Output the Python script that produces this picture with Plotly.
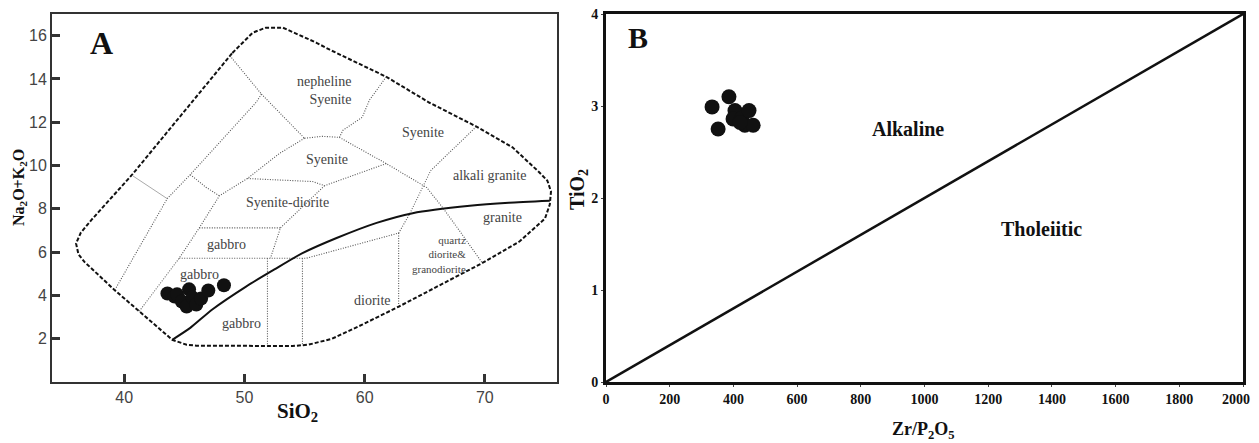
import plotly.graph_objects as go

# ---------------- Panel A: TAS (plutonic) ----------------
outer_x = [49.0, 50.7, 51.8, 53.2, 56.0, 57.1, 61.8, 65.4, 69.3, 72.3, 74.5, 75.2, 75.5, 75.4, 75.0,
           72.9, 69.8, 65.4, 62.9, 59.8, 57.3, 55.3, 54.0, 46.0, 45.2, 44.0, 41.25, 39.2, 36.7,
           36.2, 36.0, 36.4, 37.3, 38.75, 40.7, 49.0]
outer_y = [15.2, 16.14, 16.37, 16.37, 15.67, 15.35, 14.1, 12.9, 11.8, 10.84, 9.7, 9.3, 8.8, 8.2, 7.55,
           6.5, 5.5, 4.2, 3.5, 2.65, 2.0, 1.72, 1.66, 1.68, 1.72, 1.95, 3.25, 4.25, 5.55,
           5.9, 6.4, 6.9, 7.5, 8.4, 9.6, 15.2]

alk_div_x = [44.0, 45.5, 47.33, 50.17, 52.5, 54.83, 57.67, 61.0, 64.0, 68.75, 72.0, 75.4]
alk_div_y = [1.95, 2.5, 3.35, 4.42, 5.2, 5.95, 6.65, 7.35, 7.8, 8.14, 8.28, 8.37]

field_x = [48.8, 51.42, None,
           51.42, 55.0, None,
           55.0, 56.5, 57.9, None,
           57.9, 58.2, 59.8, 60.4, 61.8, None,
           57.9, 61.8, 65.17, 66.5, 67.9, 69.8, None,
           61.8, 56.67, None,
           50.25, 55.67, 56.67, None,
           55.0, 52.92, 50.25, 47.92, 46.25, 44.58, 41.25, None,
           51.42, 51.0, 45.5, 43.58, 39.17, None,
           45.5, 46.8, 47.92, None,
           46.25, 53.0, None,
           56.67, 53.0, 52.17, None,
           44.58, 55.17, 62.83, None,
           51.92, 51.92, None,
           54.83, 54.83, None,
           62.83, 62.83, None,
           62.83, 63.75, 65.5, 69.3]
field_y = [15.07, 13.3, None,
           13.3, 11.26, None,
           11.26, 11.35, 11.3, None,
           11.3, 11.63, 12.23, 13.02, 14.1, None,
           11.3, 10.09, 8.98, 8.05, 6.98, 5.49, None,
           10.09, 9.07, None,
           9.4, 9.26, 9.07, None,
           11.26, 10.56, 9.4, 8.6, 7.12, 5.72, 3.26, None,
           13.3, 12.93, 9.58, 8.47, 4.2, None,
           9.58, 9.0, 8.6, None,
           7.12, 7.12, None,
           9.07, 7.12, 5.72, None,
           5.72, 5.72, 6.88, None,
           5.72, 1.66, None,
           5.72, 1.66, None,
           6.88, 3.58, None,
           6.88, 7.77, 9.77, 11.8]

gray_x = [40.7, 43.58]
gray_y = [9.53, 8.47]

field_names = ["nepheline<br>Syenite", "Syenite", "Syenite", "Syenite-diorite", "gabbro",
               "gabbro", "gabbro", "diorite", "alkali granite", "granite"]
field_lx = [56.6, 64.83, 56.9, 53.58, 48.5, 46.25, 49.75, 60.67, 70.4, 71.5]
field_ly = [13.45, 11.53, 10.28, 8.28, 6.37, 4.98, 2.7, 3.77, 9.53, 7.58]
small_name = "quartz<br>diorite&<br>granodiorite"
small_lx, small_ly = 66.2, 5.9

sio2 = [43.6, 44.2, 44.4, 44.8, 45.2, 45.4, 45.7, 46.0, 46.4, 47.0, 48.3]
na2o_k2o = [4.09, 3.95, 4.05, 3.72, 3.49, 4.28, 3.9, 3.58, 3.86, 4.23, 4.47]

# ---------------- Panel B: TiO2 vs Zr/P2O5 ----------------
zr_p2o5 = [333, 386, 352, 405, 399, 427, 449, 436, 462, 421]
tio2 = [2.99, 3.10, 2.75, 2.95, 2.86, 2.87, 2.95, 2.79, 2.79, 2.82]
div_b_x = [0, 2000]
div_b_y = [0, 4]
b_xticks = list(range(0, 2001, 200))
b_xtick_text = [str(v) for v in b_xticks[:-1]] + ["2000" + "&nbsp;" * 4]

# page offset of the plot div (browser body margin)
OFF = 8
W, H = 1259 - OFF, 443 - OFF


def px(p):
    return (p - OFF) / W


def py(p):
    return 1 - (p - OFF) / H


fig = go.Figure()

fig.add_trace(go.Scatter(x=outer_x, y=outer_y, mode="lines",
                         line=dict(color="#111", width=2, dash="4px,2px"),
                         xaxis="x", yaxis="y", hoverinfo="skip"))
fig.add_trace(go.Scatter(x=field_x, y=field_y, mode="lines", connectgaps=False,
                         line=dict(color="#555", width=1.1, dash="1px,1.5px"),
                         xaxis="x", yaxis="y", hoverinfo="skip"))
fig.add_trace(go.Scatter(x=gray_x, y=gray_y, mode="lines",
                         line=dict(color="#aaa", width=1),
                         xaxis="x", yaxis="y", hoverinfo="skip"))
fig.add_trace(go.Scatter(x=alk_div_x, y=alk_div_y, mode="lines", line_shape="spline",
                         line=dict(color="#111", width=2, smoothing=0.6),
                         xaxis="x", yaxis="y", hoverinfo="skip"))
fig.add_trace(go.Scatter(x=sio2, y=na2o_k2o, mode="markers",
                         marker=dict(color="#111", size=14, line=dict(width=0)),
                         xaxis="x", yaxis="y"))

fig.add_trace(go.Scatter(x=div_b_x, y=div_b_y, mode="lines",
                         line=dict(color="#111", width=2.5),
                         xaxis="x2", yaxis="y2", hoverinfo="skip"))
fig.add_trace(go.Scatter(x=zr_p2o5, y=tio2, mode="markers",
                         marker=dict(color="#111", size=15, line=dict(width=0)),
                         xaxis="x2", yaxis="y2"))

ydom = [py(382), py(14)]
serif = "Liberation Serif"
sans = "Liberation Sans"

fig.update_layout(
    width=W, height=H, autosize=False,
    margin=dict(l=0, r=0, t=0, b=0, pad=0, autoexpand=False),
    paper_bgcolor="white", plot_bgcolor="white",
    showlegend=False,
    xaxis=dict(domain=[px(52), px(557)], range=[34, 76], tickvals=[40, 50, 60, 70],
               automargin=False, ticklabeloverflow="allow",
               showgrid=False, zeroline=False, showline=True, mirror=True,
               linecolor="#333", linewidth=2, ticks="inside", ticklen=8, tickwidth=3,
               tickcolor="#333", tickfont=dict(family=sans, size=16, color="#444")),
    yaxis=dict(domain=ydom, range=[0, 17], tickvals=[2, 4, 6, 8, 10, 12, 14, 16],
               automargin=False, ticklabeloverflow="allow",
               showgrid=False, zeroline=False, showline=True, mirror=True,
               linecolor="#333", linewidth=2, ticks="inside", ticklen=8, tickwidth=3,
               tickcolor="#333", tickfont=dict(family=sans, size=16, color="#444")),
    xaxis2=dict(domain=[px(606), px(1243)], range=[0, 2000], anchor="y2",
                tickvals=b_xticks, ticktext=b_xtick_text, automargin=False,
                ticklabeloverflow="allow",
                showgrid=False, zeroline=False, showline=True, mirror=True,
                linecolor="#111", linewidth=3, ticks="outside", ticklen=2, tickwidth=1,
                tickfont=dict(family=serif, size=14, color="#111", weight="bold")),
    yaxis2=dict(domain=ydom, range=[0, 4], anchor="x2", tickvals=[0, 1, 2, 3, 4],
                automargin=False, ticklabeloverflow="allow",
                showgrid=False, zeroline=False, showline=True, mirror=True,
                linecolor="#111", linewidth=3, ticks="outside", ticklen=2, tickwidth=1,
                tickfont=dict(family=serif, size=14, color="#111", weight="bold")),
)

ann = []
for name, lx, ly in zip(field_names, field_lx, field_ly):
    ann.append(dict(x=lx, y=ly, xref="x", yref="y", text=name, showarrow=False,
                    xanchor="center", yanchor="middle",
                    align="right", font=dict(family=serif, size=14, color="#444")))
ann.append(dict(x=small_lx, y=small_ly, xref="x", yref="y", text=small_name, showarrow=False,
                xanchor="center", yanchor="middle",
                align="right", font=dict(family=serif, size=11, color="#444")))
ann.append(dict(x=38.1, y=15.67, xref="x", yref="y", text="A", showarrow=False,
                xanchor="center", yanchor="middle",
                font=dict(family=serif, size=32, color="#111", weight="bold")))
ann.append(dict(x=100, y=3.74, xref="x2", yref="y2", text="B", showarrow=False,
                xanchor="center", yanchor="middle",
                font=dict(family=serif, size=30, color="#111", weight="bold")))
ann.append(dict(x=947, y=2.75, xref="x2", yref="y2", text="Alkaline", showarrow=False,
                xanchor="center", yanchor="middle",
                font=dict(family=serif, size=20, color="#111", weight="bold")))
ann.append(dict(x=1367, y=1.66, xref="x2", yref="y2", text="Tholeiitic", showarrow=False,
                xanchor="center", yanchor="middle",
                font=dict(family=serif, size=20, color="#111", weight="bold")))
ann.append(dict(x=px(297), y=py(412), xref="paper", yref="paper",
                text="SiO<sub>2</sub>", showarrow=False, xanchor="center", yanchor="middle",
                font=dict(family=serif, size=21, color="#111", weight="bold")))
ann.append(dict(x=px(20), y=py(188), xref="paper", yref="paper",
                text="Na<sub>2</sub>O+K<sub>2</sub>O", showarrow=False, textangle=-90,
                xanchor="center", yanchor="middle",
                font=dict(family=serif, size=16, color="#111", weight="bold")))
ann.append(dict(x=px(578), y=py(190), xref="paper", yref="paper",
                text="TiO<sub>2</sub>", showarrow=False, textangle=-90,
                xanchor="center", yanchor="middle",
                font=dict(family=serif, size=20, color="#111", weight="bold")))
ann.append(dict(x=px(923), y=py(430), xref="paper", yref="paper",
                text="Zr/P<sub>2</sub>O<sub>5</sub>", showarrow=False,
                xanchor="center", yanchor="middle",
                font=dict(family=serif, size=18, color="#111", weight="bold")))
fig.update_layout(annotations=ann)

fig.write_html("out.html")
